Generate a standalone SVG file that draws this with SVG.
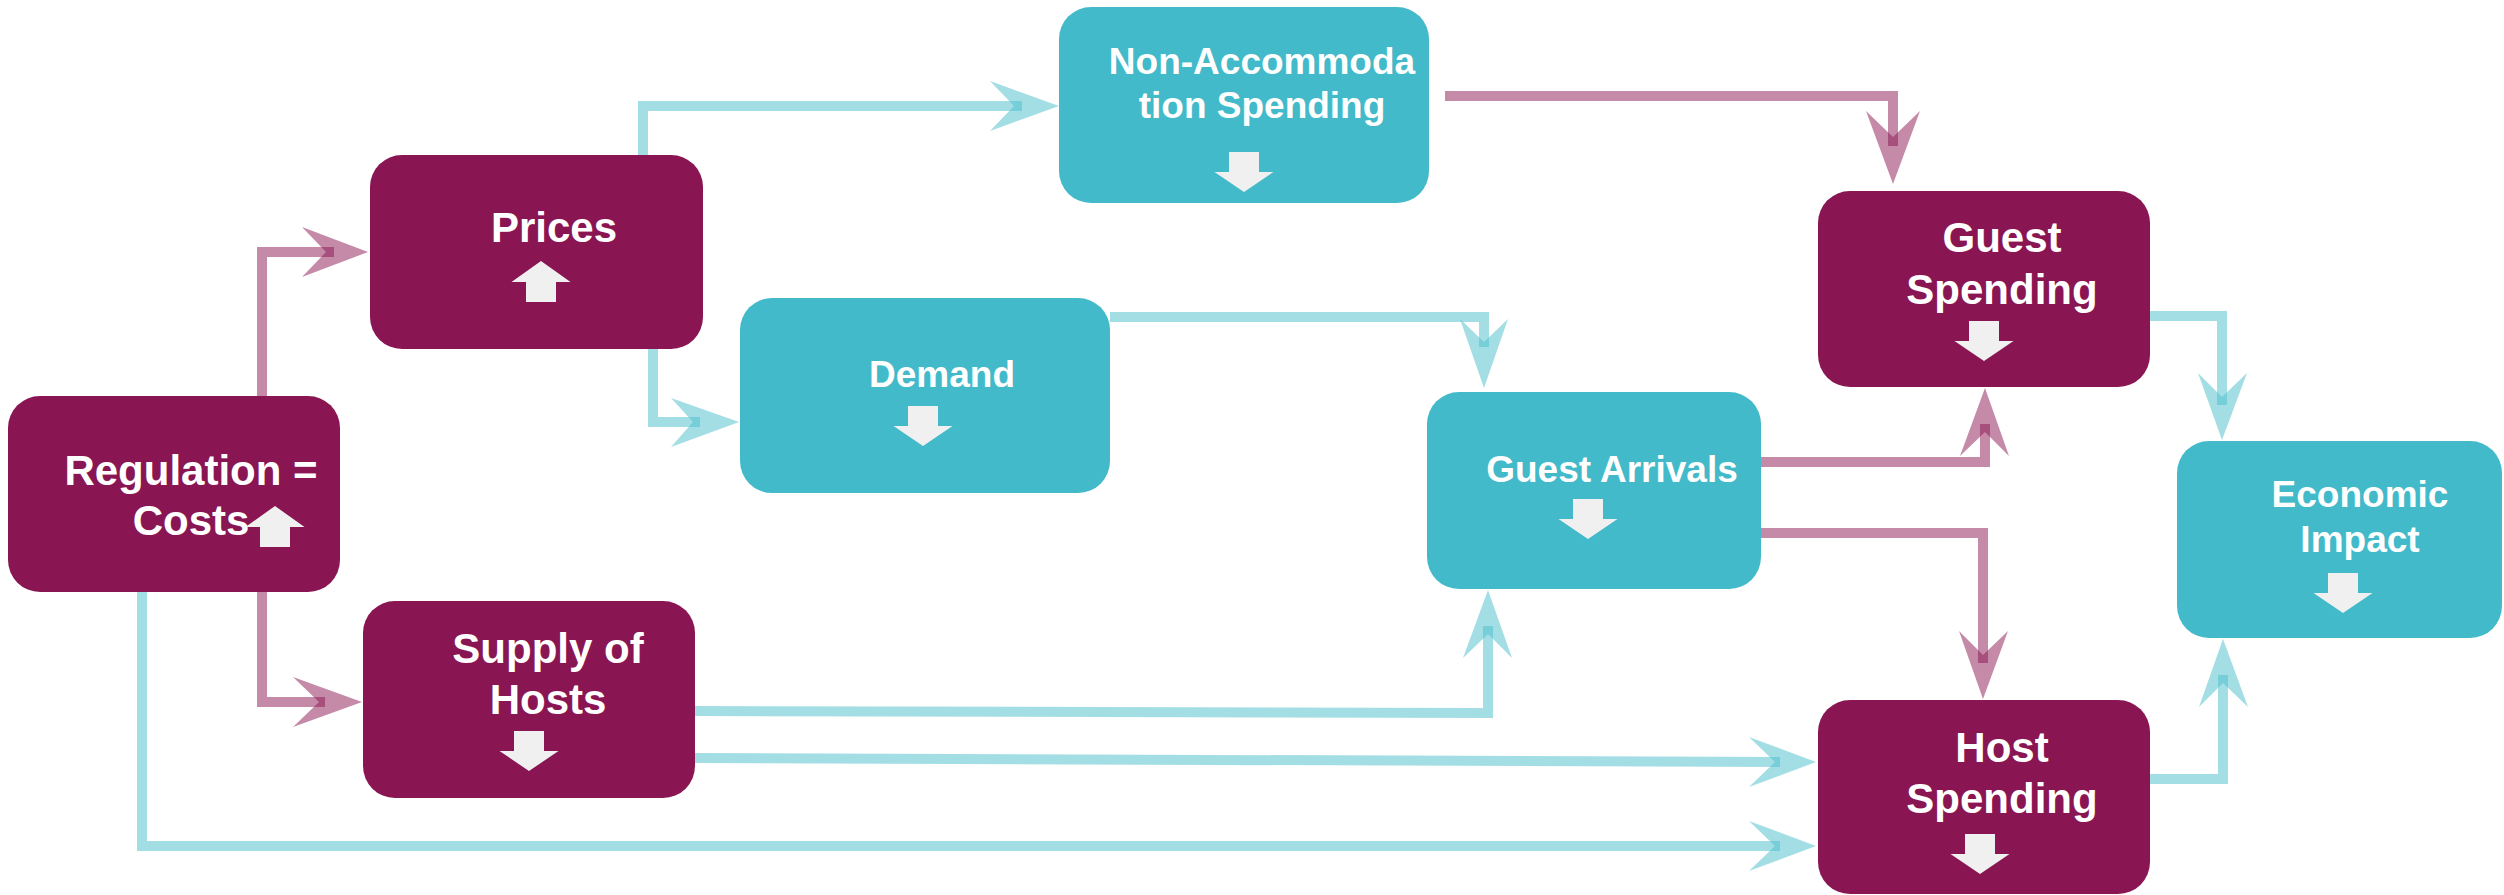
<svg xmlns="http://www.w3.org/2000/svg" width="2504" height="895" viewBox="0 0 2504 895">
<style>
.m{fill:#891652}
.t{fill:#42BACA}
.lbl{font-family:"Liberation Sans",Arial,sans-serif;font-weight:bold;fill:#FFFFFF;text-anchor:middle}
.big{font-size:42px}
.sm{font-size:37px}
.ic{fill:#F0F0F0}
.lp{fill:none;stroke:#891652;stroke-opacity:0.5;stroke-width:10;stroke-linejoin:miter;stroke-linecap:butt}
.lt{fill:none;stroke:#47BDCB;stroke-opacity:0.5;stroke-width:10;stroke-linejoin:miter;stroke-linecap:butt}
.ap{fill:#891652;fill-opacity:0.5}
.at{fill:#47BDCB;fill-opacity:0.5}
</style>
<defs>
<path id="dn" d="M-15,0 H15 V20 H29.5 L0,40 L-29.5,20 H-15 Z"/>
<path id="up" d="M0,0 L29.5,21 H15 V41 H-15 V21 H-29.5 Z"/>
</defs>
<rect width="2504" height="895" fill="#FFFFFF"/>

<g id="connectors">
<path class="lp" d="M262,397 V252 H334"/>
<polygon class="ap" points="368,252 302,227 326,252 302,277"/>
<path class="lp" d="M262,591 V702 H325"/>
<polygon class="ap" points="362,702 293,677 319,702 293,727"/>
<path class="lt" d="M142,591 V846 H1780"/>
<polygon class="at" points="1816,846 1749,821 1775,846 1749,871"/>
<path class="lt" d="M643,155 V106 H1022"/>
<polygon class="at" points="1059,106 990,81 1014,106 990,131"/>
<path class="lt" d="M653,348 V422 H700"/>
<polygon class="at" points="739,422 671,398 693,422 671,447"/>
<path class="lp" d="M1445,96 H1893 V146"/>
<polygon class="ap" points="1893,184 1866,111 1893,137 1920,111"/>
<path class="lt" d="M1110,317 H1484 V347"/>
<polygon class="at" points="1484,388 1460,319 1484,342 1508,319"/>
<path class="lp" d="M1761,462 H1985 V424"/>
<polygon class="ap" points="1985,388 1960,456 1985,432 2009,456"/>
<path class="lp" d="M1761,533 H1983 V663"/>
<polygon class="ap" points="1983,699 1959,631 1983,655 2008,631"/>
<path class="lt" d="M2150,316 H2222 V405"/>
<polygon class="at" points="2222,440 2198,373 2222,397 2247,373"/>
<path class="lt" d="M2150,779 H2223 V675"/>
<polygon class="at" points="2223,639 2199,707 2223,683 2248,707"/>
<path class="lt" d="M695,711 L1488,713 V626"/>
<polygon class="at" points="1488,590 1463,658 1488,634 1512,658"/>
<path class="lt" d="M695,758 L1780,762"/>
<polygon class="at" points="1816,762 1749,737 1775,762 1749,787"/>
</g>

<g id="regulation">
<rect class="m" x="8" y="396" width="332" height="196" rx="32" ry="32"/>
<text class="lbl big" x="191" y="485">Regulation =</text>
<text class="lbl big" x="191" y="535">Costs</text>
<use href="#up" class="ic" x="275" y="506"/>
</g>

<g id="prices">
<rect class="m" x="370" y="155" width="333" height="194" rx="32" ry="32"/>
<text class="lbl big" x="554" y="242">Prices</text>
<use href="#up" class="ic" x="541" y="261"/>
</g>

<g id="demand">
<rect class="t" x="740" y="298" width="370" height="195" rx="32" ry="32"/>
<text class="lbl sm" x="942" y="387">Demand</text>
<use href="#dn" class="ic" x="923" y="406"/>
</g>

<g id="non-accommodation">
<rect class="t" x="1059" y="7" width="370" height="196" rx="32" ry="32"/>
<text class="lbl sm" x="1262" y="74">Non-Accommoda</text>
<text class="lbl sm" x="1262" y="118">tion Spending</text>
<use href="#dn" class="ic" x="1244" y="152"/>
</g>

<g id="guest-arrivals">
<rect class="t" x="1427" y="392" width="334" height="197" rx="32" ry="32"/>
<text class="lbl sm" x="1612" y="482">Guest Arrivals</text>
<use href="#dn" class="ic" x="1588" y="499"/>
</g>

<g id="guest-spending">
<rect class="m" x="1818" y="191" width="332" height="196" rx="32" ry="32"/>
<text class="lbl big" x="2002" y="252">Guest</text>
<text class="lbl big" x="2002" y="304">Spending</text>
<use href="#dn" class="ic" x="1984" y="321"/>
</g>

<g id="economic-impact">
<rect class="t" x="2177" y="441" width="325" height="197" rx="32" ry="32"/>
<text class="lbl sm" x="2360" y="507">Economic</text>
<text class="lbl sm" x="2360" y="552">Impact</text>
<use href="#dn" class="ic" x="2343" y="573"/>
</g>

<g id="supply-of-hosts">
<rect class="m" x="363" y="601" width="332" height="197" rx="32" ry="32"/>
<text class="lbl big" x="548" y="663">Supply of</text>
<text class="lbl big" x="548" y="714">Hosts</text>
<use href="#dn" class="ic" x="529" y="731"/>
</g>

<g id="host-spending">
<rect class="m" x="1818" y="700" width="332" height="194" rx="32" ry="32"/>
<text class="lbl big" x="2002" y="762">Host</text>
<text class="lbl big" x="2002" y="813">Spending</text>
<use href="#dn" class="ic" x="1980" y="834"/>
</g>
</svg>
